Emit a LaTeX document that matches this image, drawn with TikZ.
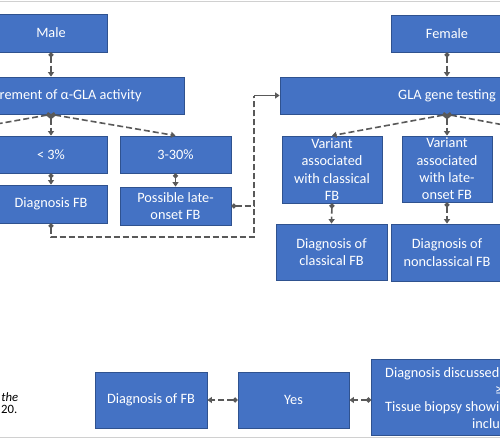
\documentclass[tikz,border=0pt]{standalone}
\usepackage{fontspec}
\setmainfont{Carlito}
\usetikzlibrary{arrows.meta}
\definecolor{boxblue}{HTML}{4472C4}
\definecolor{boxline}{HTML}{2F528F}
\definecolor{conngray}{HTML}{595959}
\definecolor{rulegray}{HTML}{D0D0D0}
\begin{document}
\begin{tikzpicture}[x=1pt,y=-1pt,
  box/.style={draw=boxline,fill=boxblue,line width=0.8pt,text=white,inner sep=0pt,align=center,font=\fontsize{14.3}{17.4}\selectfont},
  boxtext/.style={text=white,inner sep=0pt,font=\fontsize{14.3}{17.4}\selectfont},
  captext/.style={inner sep=0pt,font=\fontsize{12.7}{13}\selectfont},
  connector/.style={draw=conngray,line width=1.6pt,dash pattern=on 6pt off 3pt,{Circle[length=5pt]}-{Triangle[length=4.5pt,width=6pt]}},
  dashlink/.style={draw=conngray,line width=1.6pt,dash pattern=on 6pt off 3pt},
]
\useasboundingbox (0,0) rectangle (500,439);
\clip (0,0) rectangle (500,439);
\fill[white] (0,0) rectangle (500,439);
\draw[rulegray,line width=1pt] (0,1) -- (500,1);
\draw[rulegray,line width=1pt] (0,437.5) -- (500,437.5);

% left column
\node[box,minimum width=112pt,minimum height=38pt] (male) at (51,33) {Male};
\node[box,minimum width=266pt,minimum height=37pt] (meas) at (51,95.5) {Measurement of α-GLA activity};
\node[box,minimum width=112pt,minimum height=37pt] (lt3) at (51,154.5) {< 3\%};
\node[box,minimum width=111pt,minimum height=37pt] (r330) at (175.5,154.5) {3-30\%};
\node[box,minimum width=112pt,minimum height=38pt] (dxfb) at (51,204) {Diagnosis FB};
\node[box,minimum width=111pt,minimum height=38pt] (late) at (175.5,206) {Possible late-\\onset FB};

% right column
\node[box,minimum width=112pt,minimum height=37pt] (female) at (447,33.5) {Female};
\node[box,minimum width=334pt,minimum height=37pt] (gla) at (447,95.5) {GLA gene testing};
\node[box,minimum width=100pt,minimum height=67pt] (varc) at (332,169.5) {Variant\\associated\\with classical\\FB};
\node[box,minimum width=90pt,minimum height=66pt] (varl) at (447,169) {Variant\\associated\\with late-\\onset FB};
\node[box,minimum width=111pt,minimum height=56pt] (dxc) at (331.5,252) {Diagnosis of\\classical FB};
\node[box,minimum width=112pt,minimum height=57pt] (dxn) at (447,252.5) {Diagnosis of\\nonclassical FB};

% bottom row
\node[box,minimum width=112pt,minimum height=56pt] (dxfb2) at (151,400) {Diagnosis of FB};
\node[box,minimum width=111pt,minimum height=56pt] (yes) at (293.5,400) {Yes};
\node[box,minimum width=300pt,minimum height=76pt,anchor=north west] (disc) at (371,359) {};
\node[boxtext,anchor=base west] (disc1) at (385,377) {Diagnosis discussed};
\node[boxtext,anchor=base west] (disc2) at (495,394) {≥};
\node[boxtext,anchor=base west] (disc3) at (385,411) {Tissue biopsy showi};
\node[boxtext,anchor=base west] (disc4) at (472,428) {inclu};

% caption fragments
\node[captext,anchor=base east,font=\fontsize{12.7}{13}\selectfont\itshape] (cap1) at (18.5,401) {the};
\node[captext,anchor=base east] (cap2) at (17.5,413) {20.};

% coordinates
\coordinate (offl) at (-71,136);
\coordinate (offr) at (563,136);
\coordinate (jb) at (254,237);
\coordinate (jt) at (254,95.5);

% connectors
\draw[connector] (male.south) -- (meas.north);
\draw[connector] (meas.south) -- (lt3.north);
\draw[connector] (meas.south) -- (r330.north);
\draw[connector] (meas.south) -- (offl);
\draw[connector] (lt3.south) -- (dxfb.north);
\draw[connector] (r330.south) -- (late.north);
\draw[dashlink,{Circle[length=5pt]}-] (dxfb.south) |- (jb) -- (jt);
\draw[dashlink,{Circle[length=5pt]}-] (late.east) -| (jt);
\draw[draw=conngray,line width=1.6pt,-{Triangle[length=4.5pt,width=6pt]}] (jt) -- (gla.west);
\draw[connector] (female.south) -- (gla.north);
\draw[connector] (gla.south) -- (varc.north);
\draw[connector] (gla.south) -- (varl.north);
\draw[connector] (gla.south) -- (offr);
\draw[connector] (varc.south) -- (dxc.north);
\draw[connector] (varl.south) -- (dxn.north);
\draw[connector] (disc.west |- yes.east) -- (yes.east);
\draw[connector] (yes.west) -- (dxfb2.east);
\end{tikzpicture}
\end{document}
